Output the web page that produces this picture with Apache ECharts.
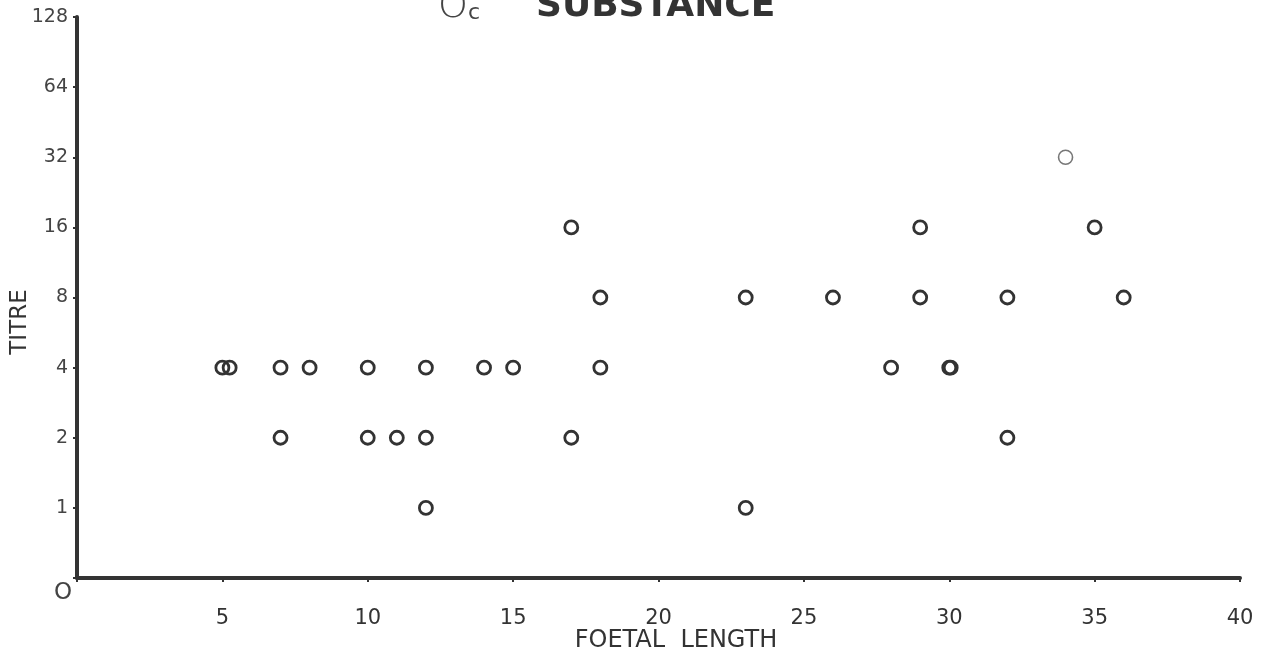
<!DOCTYPE html>
<html><head><meta charset="utf-8">
<script src="https://cdn.jsdelivr.net/npm/echarts@6/dist/echarts.min.js"></script>
<style>html,body{margin:0;padding:0;background:#fff}#c{width:1272px;height:660px}</style>
</head><body><div id="c"></div>
<script>
// foetal length (x) and titre (y)
const foetalLength = [5, 5.25, 7, 8, 10, 12, 14, 15, 18, 28, 30, 30.05,
                      7, 10, 11, 12, 17, 32,
                      12, 23,
                      18, 23, 26, 29, 32, 36,
                      17, 29, 35];
const titre = [4, 4, 4, 4, 4, 4, 4, 4, 4, 4, 4, 4,
               2, 2, 2, 2, 2, 2,
               1, 1,
               8, 8, 8, 8, 8, 8,
               16, 16, 16];
// faint point
const faintLength = [34];
const faintTitre = [32];
const yTickLabels = ['1', '2', '4', '8', '16', '32', '64', '128'];
const xTickLabels = ['5', '10', '15', '20', '25', '30', '35', '40'];

const chart = echarts.init(document.getElementById('c'));
const font = '"DejaVu Sans", sans-serif';
chart.setOption({
  animation: false,
  grid: {left: 77, right: 32, top: 17, bottom: 82},
  xAxis: {
    type: 'value', min: 0, max: 40, interval: 5,
    axisLine: {show: true, lineStyle: {color: '#333', width: 4}},
    axisTick: {show: true, length: 4, lineStyle: {color: '#333', width: 2}},
    splitLine: {show: false},
    axisLabel: {
      margin: 30, fontSize: 21, color: '#333', fontFamily: font,
      formatter: v => { const s = String(v); return xTickLabels.indexOf(s) >= 0 ? s : ''; }
    }
  },
  yAxis: {
    type: 'log', logBase: 2, min: 0.5, max: 128, interval: 1,
    axisLine: {show: true, lineStyle: {color: '#333', width: 4}},
    axisTick: {show: true, length: 4, lineStyle: {color: '#333', width: 2}},
    splitLine: {show: false},
    axisLabel: {
      margin: 9, fontSize: 19, color: '#444', fontFamily: font,
      formatter: v => { const s = String(Math.round(v)); return (v > 0.9 && yTickLabels.indexOf(s) >= 0) ? s : ''; }
    }
  },
  series: [
    {
      type: 'scatter', symbol: 'circle', symbolSize: 13,
      itemStyle: {color: 'rgba(255,255,255,0)', borderColor: '#333', borderWidth: 2.8, opacity: 1},
      data: foetalLength.map((x, i) => [x, titre[i]])
    },
    {
      type: 'scatter', symbol: 'circle', symbolSize: 14,
      itemStyle: {color: 'rgba(255,255,255,0)', borderColor: '#777', borderWidth: 1.6, opacity: 1},
      data: faintLength.map((x, i) => [x, faintTitre[i]])
    }
  ],
  graphic: [
    {type: 'text', left: 438, top: -12, style: {
      text: '{o|O}{c|c}{s|SUBSTANCE}',
      rich: {
        o: {fontSize: 38, fontFamily: font, fill: '#444', fontWeight: 'lighter'},
        c: {fontSize: 22, fontFamily: font, fill: '#444', padding: [12, 0, 0, 0]},
        s: {fontSize: 36, fontFamily: font, fill: '#333', fontWeight: 'bold', padding: [0, 0, 0, 56]}
      }
    }},
    {type: 'text', x: 676, y: 641, style: {text: 'FOETAL  LENGTH', fontSize: 24, fontFamily: font, fill: '#333', align: 'center', verticalAlign: 'middle'}},
    {type: 'text', x: 20, y: 322, rotation: Math.PI / 2, style: {text: 'TITRE', fontSize: 23, fontFamily: font, fill: '#333', align: 'center', verticalAlign: 'middle'}},
    {type: 'text', left: 54, top: 582, style: {text: 'O', fontSize: 23, fontFamily: font, fill: '#444'}}
  ]
});
</script></body></html>
